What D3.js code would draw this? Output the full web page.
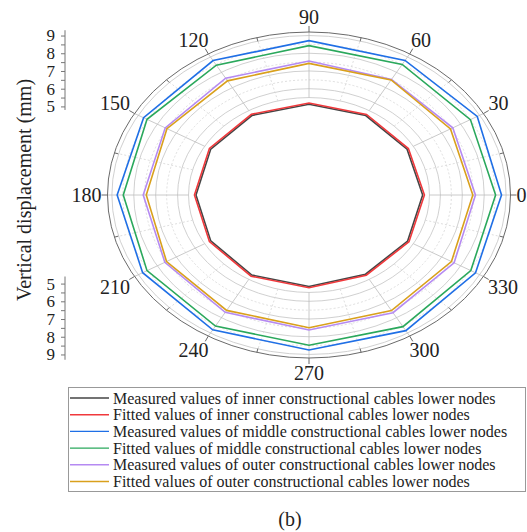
<!DOCTYPE html>
<html>
<head>
<meta charset="utf-8">
<script src="https://cdn.jsdelivr.net/npm/d3@7"></script>
<style>
  body { margin: 0; background: #fff; }
  svg { display: block; font-family: "Liberation Serif", "Times New Roman", serif; }
</style>
</head>
<body>
<div id="vis"></div>
<script>
// angles (degrees) of the measuring points
var angles = [0, 30, 60, 90, 120, 150, 180, 210, 240, 270, 300, 330];

// vertical displacement (mm) at each angle
var innerMeasured  = [5.19, 5.17, 5.18, 5.12, 5.19, 5.18, 5.16, 5.18, 5.22, 5.16, 5.16, 5.20];
var innerFitted    = [5.27, 5.24, 5.25, 5.19, 5.26, 5.25, 5.23, 5.25, 5.29, 5.23, 5.23, 5.27];
var middleMeasured = [8.79, 8.87, 8.77, 8.71, 8.76, 8.72, 8.76, 8.77, 8.79, 8.75, 8.84, 8.78];
var middleFitted   = [8.52, 8.51, 8.51, 8.43, 8.46, 8.54, 8.48, 8.54, 8.54, 8.48, 8.58, 8.53];
var outerMeasured  = [7.60, 7.58, 7.53, 7.56, 7.61, 7.58, 7.57, 7.60, 7.65, 7.62, 7.67, 7.65];
var outerFitted    = [7.48, 7.46, 7.50, 7.43, 7.44, 7.49, 7.43, 7.51, 7.52, 7.49, 7.53, 7.51];

var seriesNames = [
  'Measured values of inner constructional cables lower nodes',
  'Fitted values of inner constructional cables lower nodes',
  'Measured values of middle constructional cables lower nodes',
  'Fitted values of middle constructional cables lower nodes',
  'Measured values of outer constructional cables lower nodes',
  'Fitted values of outer constructional cables lower nodes'
];
var seriesValues = [innerMeasured, innerFitted, middleMeasured, middleFitted, outerMeasured, outerFitted];
var seriesColors = ['#454545', '#f0393c', '#1f6fe6', '#2aa85c', '#b58af2', '#d9a01c'];

var radialTicks = [5, 6, 7, 8, 9];
var radialMax = 9.2;

var width = 527, height = 532;
var cx = 309, cy = 195, rx = 201.5, ry = 163;

var svg = d3.select('#vis').append('svg')
  .attr('width', width)
  .attr('height', height);

// radial scale: 0 at centre, radialMax at the outer border
var r = d3.scaleLinear().domain([0, radialMax]).range([0, 1]);
var theta = d3.scaleLinear().domain([0, 360]).range([0, 2 * Math.PI]);

function px(a, v) { return cx + rx * r(v) * Math.cos(theta(a)); }
function py(a, v) { return cy - ry * r(v) * Math.sin(theta(a)); }

var grid = svg.append('g').attr('class', 'grid');

// concentric grid ellipses
var gridValues = d3.range(5.5, 9.01, 0.5);
grid.selectAll('ellipse.ring')
  .data(gridValues)
  .enter().append('ellipse')
  .attr('class', 'ring')
  .attr('cx', cx).attr('cy', cy)
  .attr('rx', function(d) { return rx * r(d); })
  .attr('ry', function(d) { return ry * r(d); })
  .attr('fill', 'none')
  .attr('stroke', function(d) { return (d % 1 === 0 || d === 5.5) ? '#c4c4c4' : '#d6d6d6'; })
  .attr('stroke-dasharray', function(d) { return (d % 1 === 0 || d === 5.5) ? null : '2,2'; })
  .attr('stroke-width', 0.8);

// spokes
var spokeAngles = d3.range(0, 360, 15);
grid.selectAll('line.spoke')
  .data(spokeAngles)
  .enter().append('line')
  .attr('class', 'spoke')
  .attr('x1', function(d) { return px(d, 5.5); })
  .attr('y1', function(d) { return py(d, 5.5); })
  .attr('x2', function(d) { return px(d, radialMax); })
  .attr('y2', function(d) { return py(d, radialMax); })
  .attr('stroke', function(d) { return d % 30 === 0 ? '#bdbdbd' : '#d6d6d6'; })
  .attr('stroke-dasharray', function(d) { return d % 30 === 0 ? null : '2,2'; })
  .attr('stroke-width', 0.8);

// outer border
svg.append('ellipse')
  .attr('cx', cx).attr('cy', cy)
  .attr('rx', rx).attr('ry', ry)
  .attr('fill', 'none')
  .attr('stroke', '#6a6a6a')
  .attr('stroke-width', 1);

// angular ticks: major outward, minor inward
svg.selectAll('line.atick')
  .data(spokeAngles)
  .enter().append('line')
  .attr('class', 'atick')
  .attr('x1', function(d) { return px(d, radialMax); })
  .attr('y1', function(d) { return py(d, radialMax); })
  .attr('x2', function(d) {
    var k = d % 30 === 0 ? 6 : -4;
    return px(d, radialMax) + k * Math.cos(theta(d));
  })
  .attr('y2', function(d) {
    var k = d % 30 === 0 ? 6 : -4;
    return py(d, radialMax) - k * Math.sin(theta(d));
  })
  .attr('stroke', '#6a6a6a')
  .attr('stroke-width', 1);

// angular labels
var angleLabels = svg.selectAll('text.alabel')
  .data(d3.range(0, 360, 30))
  .enter().append('text')
  .attr('class', 'alabel')
  .attr('font-size', 20)
  .attr('fill', '#222')
  .attr('text-anchor', 'middle')
  .attr('dominant-baseline', 'central')
  .text(function(d) { return d; });

angleLabels.each(function(d) {
  var w = this.getBBox().width;
  var c = Math.cos(theta(d)), s = Math.sin(theta(d));
  var ox = Math.sign(Math.round(c * 1000)) * Math.sqrt(Math.abs(c)) * (6 + w / 2);
  var oy = Math.sign(Math.round(s * 1000)) * Math.sqrt(Math.abs(s)) * 15;
  d3.select(this)
    .attr('x', px(d, radialMax) + ox)
    .attr('y', py(d, radialMax) - oy);
});

// data polygons
var line = d3.line()
  .x(function(d) { return px(d.a, d.v); })
  .y(function(d) { return py(d.a, d.v); })
  .curve(d3.curveLinearClosed);

svg.append('g').selectAll('path.series')
  .data(seriesValues)
  .enter().append('path')
  .attr('class', 'series')
  .attr('d', function(vals) {
    return line(angles.map(function(a, i) { return { a: a, v: vals[i] }; }));
  })
  .attr('fill', 'none')
  .attr('stroke', function(d, i) { return seriesColors[i]; })
  .attr('stroke-width', 1.6)
  .attr('stroke-linejoin', 'miter');

// radial axes on the left (upper and lower halves)
var axisX = 65;
var yUp = d3.scaleLinear().domain([0, radialMax]).range([cy, cy - ry]);
var yDown = d3.scaleLinear().domain([0, radialMax]).range([cy, cy + ry]);

function radialAxis(scale, domainEnds) {
  var g = svg.append('g').attr('transform', 'translate(' + axisX + ',0)');
  g.append('line')
    .attr('x1', 0).attr('x2', 0)
    .attr('y1', scale(domainEnds[0])).attr('y2', scale(domainEnds[1]))
    .attr('stroke', '#777');
  var ax = d3.axisLeft(scale)
    .tickValues(d3.range(5, 9.01, 0.5))
    .tickSize(4)
    .tickPadding(6)
    .tickFormat(function(d) { return d % 1 === 0 ? d : ''; });
  g.call(ax);
  g.select('.domain').remove();
  g.selectAll('.tick line').attr('stroke', '#777');
  g.selectAll('.tick text')
    .attr('font-size', 17)
    .attr('font-family', '"Liberation Serif", serif')
    .attr('fill', '#222');
}
radialAxis(yUp, [4.8, 9.3]);
radialAxis(yDown, [4.6, 9.3]);

// axis title
svg.append('text')
  .attr('transform', 'translate(31,' + 190 + ') rotate(-90)')
  .attr('text-anchor', 'middle')
  .attr('font-size', 20)
  .attr('fill', '#222')
  .text('Vertical displacement (mm)');

// legend
var legend = svg.append('g').attr('class', 'legend');
legend.append('rect')
  .attr('x', 68.5).attr('y', 387.5)
  .attr('width', 457).attr('height', 104)
  .attr('fill', 'none')
  .attr('stroke', '#999');

var rows = legend.selectAll('g.row')
  .data(seriesNames)
  .enter().append('g')
  .attr('class', 'row')
  .attr('transform', function(d, i) { return 'translate(0,' + (398 + i * 16.7) + ')'; });

rows.append('line')
  .attr('x1', 70).attr('x2', 109)
  .attr('y1', 0).attr('y2', 0)
  .attr('stroke', function(d, i) { return seriesColors[i]; })
  .attr('stroke-width', 1.4);

rows.append('text')
  .attr('x', 113)
  .attr('y', 0)
  .attr('dominant-baseline', 'central')
  .attr('font-size', 16)
  .attr('fill', '#222')
  .text(function(d) { return d; });

// sub-figure caption
svg.append('text')
  .attr('x', 290).attr('y', 519)
  .attr('text-anchor', 'middle')
  .attr('dominant-baseline', 'central')
  .attr('font-size', 20)
  .attr('fill', '#222')
  .text('(b)');
</script>
</body>
</html>
